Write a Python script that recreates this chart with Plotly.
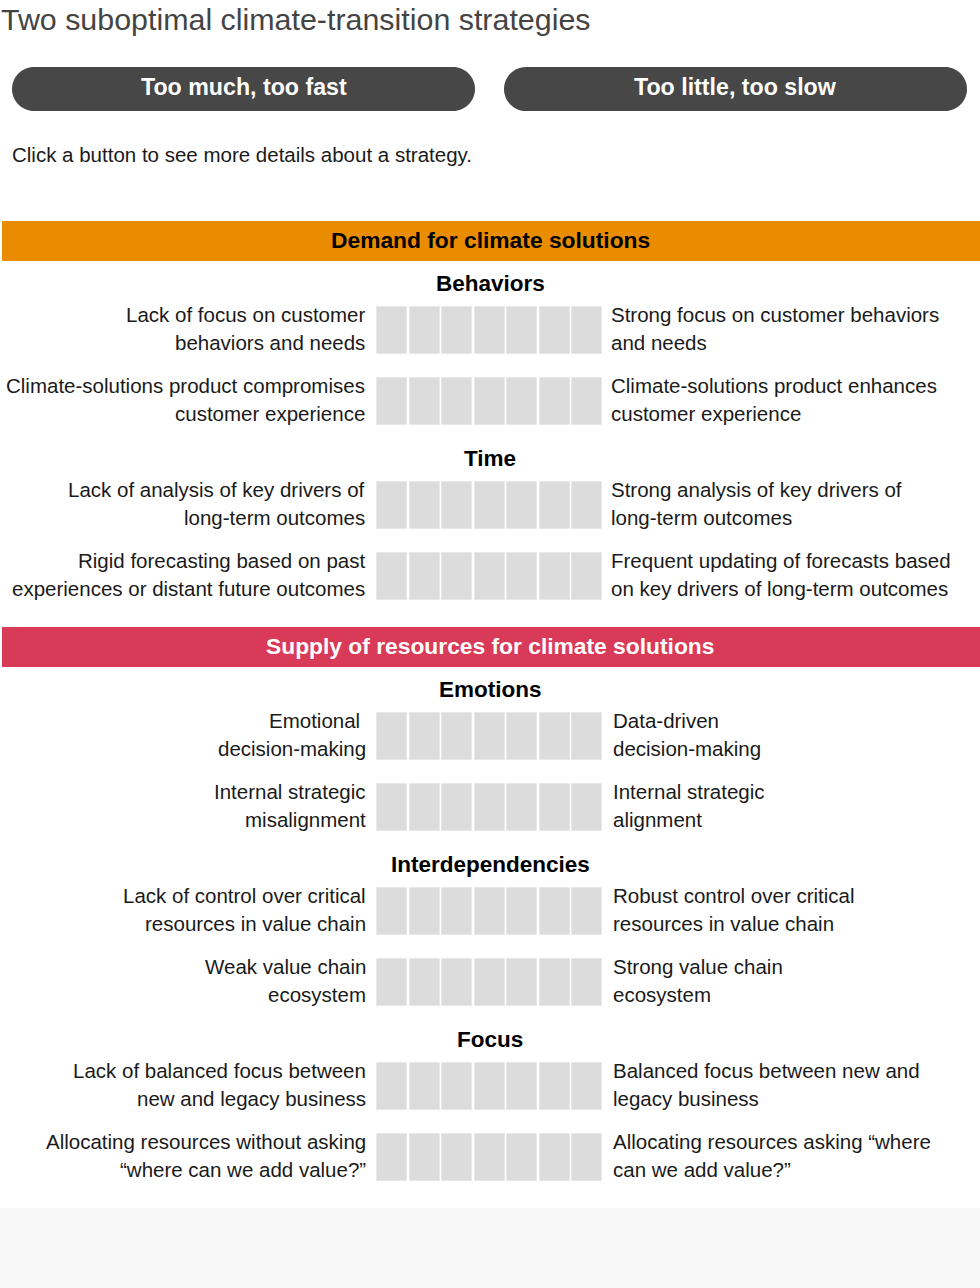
import plotly.graph_objects as go

# ---------------- data ----------------
title_text = "Two suboptimal climate-transition strategies"
button_labels = ["Too much, too fast", "Too little, too slow"]
hint_text = "Click a button to see more details about a strategy."

section_titles = ["Demand for climate solutions", "Supply of resources for climate solutions"]
section_colors = ["#E98C00", "#D93A58"]
section_text_colors = ["#000000", "#FFFFFF"]

demand_groups = ["Behaviors", "Time"]
demand_left = [
    ["Lack of focus on customer\nbehaviors and needs",
     "Climate-solutions product compromises\ncustomer experience"],
    ["Lack of analysis of key drivers of\nlong-term outcomes",
     "Rigid forecasting based on past\nexperiences or distant future outcomes"],
]
demand_right = [
    ["Strong focus on customer behaviors\nand needs",
     "Climate-solutions product enhances\ncustomer experience"],
    ["Strong analysis of key drivers of\nlong-term outcomes",
     "Frequent updating of forecasts based\non key drivers of long-term outcomes"],
]

supply_groups = ["Emotions", "Interdependencies", "Focus"]
supply_left = [
    ["Emotional \ndecision-making",
     "Internal strategic\nmisalignment"],
    ["Lack of control over critical\nresources in value chain",
     "Weak value chain\necosystem"],
    ["Lack of balanced focus between\nnew and legacy business",
     "Allocating resources without asking\n\u201cwhere can we add value?\u201d"],
]
supply_right = [
    ["Data-driven\ndecision-making",
     "Internal strategic\nalignment"],
    ["Robust control over critical\nresources in value chain",
     "Strong value chain\necosystem"],
    ["Balanced focus between new and\nlegacy business",
     "Allocating resources asking \u201cwhere\ncan we add value?\u201d"],
]

scale_points = [1, 2, 3, 4, 5, 6, 7]

# ---------------- layout helpers ----------------
W, H = 980, 1288
FONT = "Liberation Sans, Arial, Helvetica, sans-serif"
LABEL_SIZE = 20.5
HEAD_SIZE = 22.5
shapes = []
annotations = []


def text(x, y, s, size, color="#1a1a1a", bold=False, xanchor="center"):
    annotations.append(dict(
        x=x, y=y - 1.5, xref="x", yref="y", text=("<b>%s</b>" % s) if bold else s,
        showarrow=False, xanchor=xanchor, yanchor="middle", borderpad=0,
        font=dict(family=FONT, size=size, color=color)))


def rounded(x0, y0, x1, y1, r, color):
    k = 0.5523 * r
    p = (f"M {x0+r},{y0} L {x1-r},{y0} "
         f"C {x1-r+k},{y0} {x1},{y0+r-k} {x1},{y0+r} "
         f"L {x1},{y1-r} "
         f"C {x1},{y1-r+k} {x1-r+k},{y1} {x1-r},{y1} "
         f"L {x0+r},{y1} "
         f"C {x0+r-k},{y1} {x0},{y1-r+k} {x0},{y1-r} "
         f"L {x0},{y0+r} "
         f"C {x0},{y0+r-k} {x0+r-k},{y0} {x0+r},{y0} Z")
    shapes.append(dict(type="path", path=p, xref="x", yref="y",
                       fillcolor=color, line=dict(width=0), layer="below"))


# title, buttons, hint
text(0, 20, title_text, 30.4, color="#444444", xanchor="left")
for i, lab in enumerate(button_labels):
    x0 = 12 + i * 492
    rounded(x0, 67, x0 + 463, 111, 22, "#474747")
    text(x0 + 231.5, 88.5, lab, 23.2, color="#FFFFFF", bold=True)
text(11, 156, hint_text, LABEL_SIZE, color="#1a1a1a", xanchor="left")

# bottom grey strip
shapes.append(dict(type="rect", xref="x", yref="y", x0=0, x1=W, y0=1208, y1=H,
                   fillcolor="#F8F8F8", line=dict(width=0), layer="below"))

# squares
SQ_X0, SQ_PITCH, SQ_W, SQ_H = 377, 32.55, 30, 47
bar_x, bar_base = [], []

sections = [
    (demand_groups, demand_left, demand_right, 221, 365.5, 609.5),
    (supply_groups, supply_left, supply_right, 627, 366.5, 611.5),
]
for si, (groups, lefts, rights, top, lx, rx) in enumerate(sections):
    shapes.append(dict(type="rect", xref="x", yref="y", x0=2, x1=W, y0=top, y1=top + 40,
                       fillcolor=section_colors[si], line=dict(width=0), layer="below"))
    text(490, top + 20, section_titles[si], 22.8, color=section_text_colors[si], bold=True)
    y = top + 40 + 24  # first heading centre
    for gi, g in enumerate(groups):
        text(490, y, g, HEAD_SIZE, color="#000000", bold=True)
        yc = y + 45
        for li in range(len(lefts[gi])):
            for j, ln in enumerate(lefts[gi][li].split("\n")):
                text(lx, yc - 14.5 + 28 * j, ln, LABEL_SIZE, xanchor="right")
            for j, ln in enumerate(rights[gi][li].split("\n")):
                text(rx, yc - 14.5 + 28 * j, ln, LABEL_SIZE, xanchor="left")
            for p in scale_points:
                bar_x.append(SQ_X0 + SQ_W / 2 + (p - 1) * SQ_PITCH)
                bar_base.append(yc - SQ_H / 2 + 0.5)
            yc += 71
        y = yc - 71 + 59

fig = go.Figure(go.Bar(
    x=bar_x, y=[SQ_H] * len(bar_x), base=bar_base, width=SQ_W,
    marker=dict(color="#DCDCDC", line=dict(color="#E8E8E8", width=1)),
    hoverinfo="skip", showlegend=False))

fig.update_layout(
    width=W, height=H, margin=dict(l=0, r=0, t=0, b=0),
    paper_bgcolor="#FFFFFF", plot_bgcolor="#FFFFFF",
    xaxis=dict(range=[0, W], visible=False, fixedrange=True),
    yaxis=dict(range=[H, 0], visible=False, fixedrange=True),
    shapes=shapes, annotations=annotations, bargap=0, showlegend=False)

fig.write_html("out.html", config={"displayModeBar": False},
               post_script="document.body.style.margin='0';document.body.style.overflow='hidden';")
